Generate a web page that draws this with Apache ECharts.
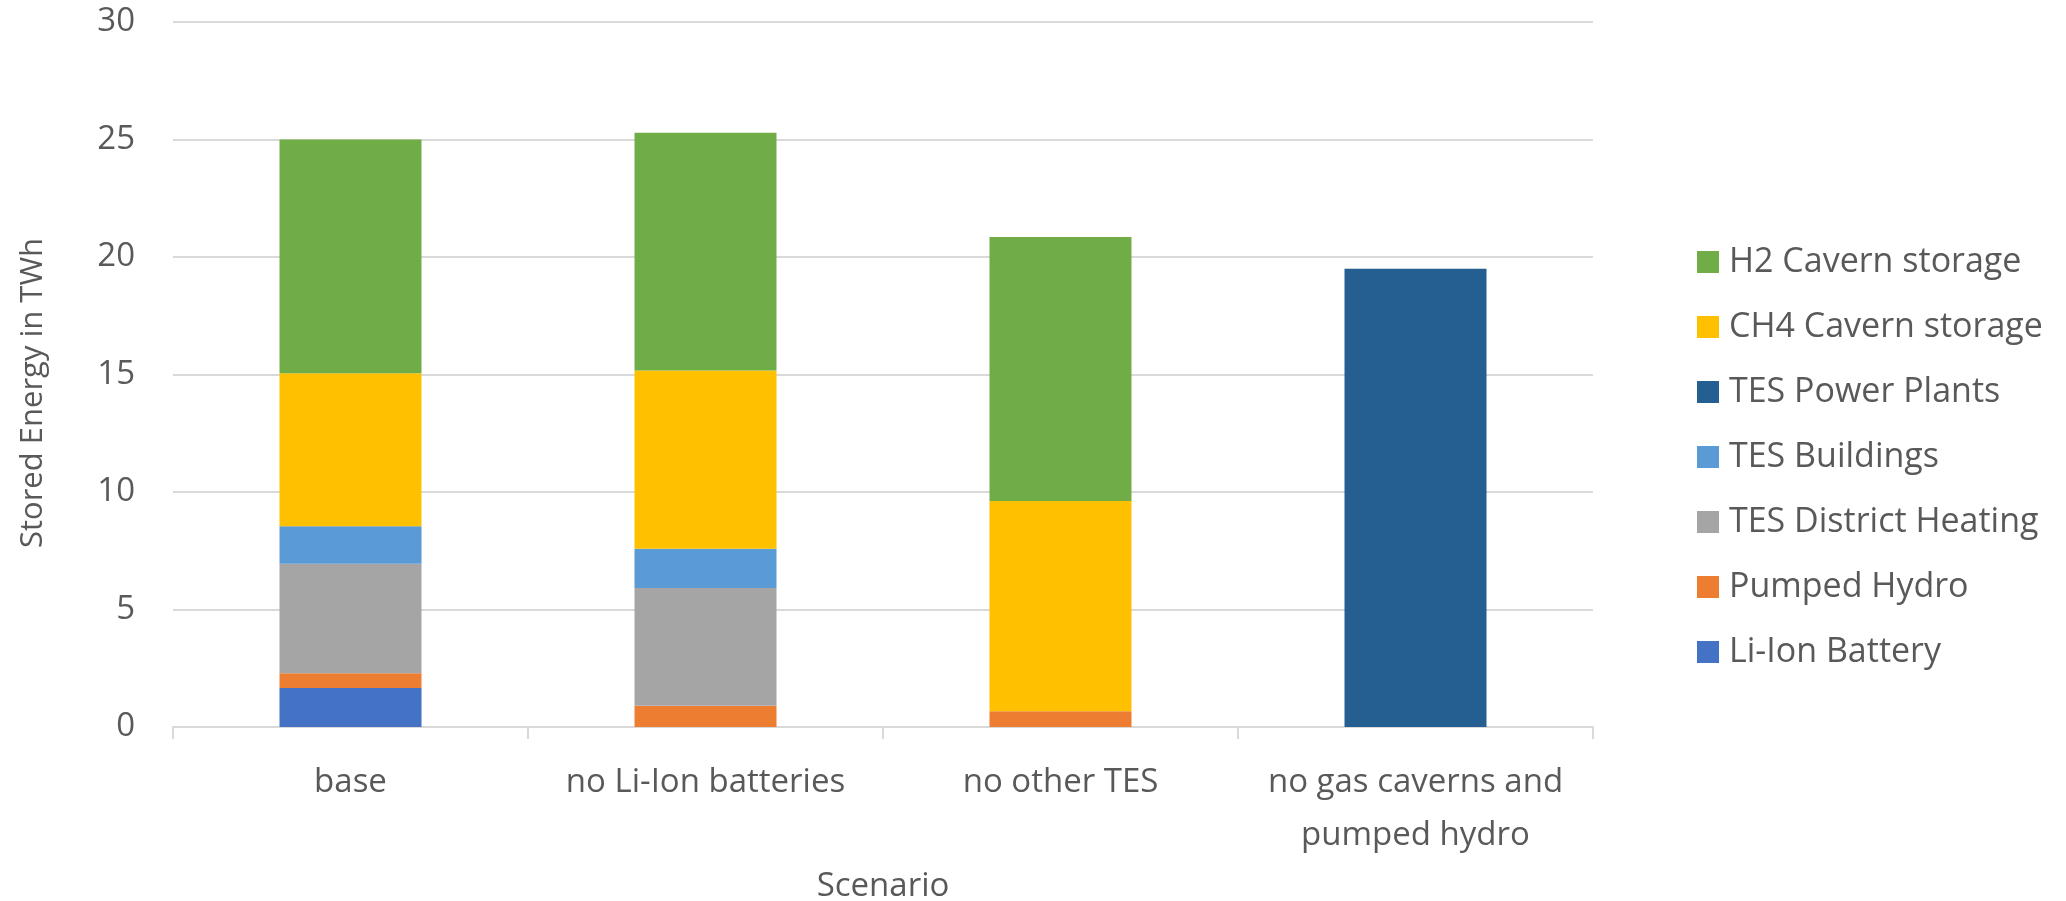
<!DOCTYPE html>
<html>
<head>
<meta charset="utf-8">
<title>Stored Energy by Scenario</title>
<script src="https://cdn.jsdelivr.net/npm/echarts@6/dist/echarts.min.js"></script>
<style>
  html, body { margin: 0; padding: 0; background: #ffffff; }
  #chart { width: 2066px; height: 901px; }
</style>
</head>
<body>
<div id="chart"></div>
<script>
// Scenarios on the x axis
const scenarios = ['base', 'no Li-Ion batteries', 'no other TES', 'no gas caverns and\npumped hydro'];

// Stored energy per technology and scenario, TWh (stacked bottom to top)
const liIonBattery     = [1.66, 0, 0, 0];
const pumpedHydro      = [0.63, 0.90, 0.67, 0];
const tesDistrictHeat  = [4.66, 5.01, 0, 0];
const tesBuildings     = [1.59, 1.67, 0, 0];
const tesPowerPlants   = [0, 0, 0, 19.5];
const ch4Cavern        = [6.51, 7.59, 8.95, 0];
const h2Cavern         = [9.95, 10.12, 11.23, 0];

// Value axis ticks
const yTicks = [0, 5, 10, 15, 20, 25, 30];

const seriesDefs = [
  { name: 'Li-Ion Battery',       data: liIonBattery,    color: '#4472C4' },
  { name: 'Pumped Hydro',         data: pumpedHydro,     color: '#ED7D31' },
  { name: 'TES District Heating', data: tesDistrictHeat, color: '#A5A5A5' },
  { name: 'TES Buildings',        data: tesBuildings,    color: '#5B9BD5' },
  { name: 'TES Power Plants',     data: tesPowerPlants,  color: '#255E91' },
  { name: 'CH4 Cavern storage',   data: ch4Cavern,       color: '#FFC000' },
  { name: 'H2 Cavern storage',    data: h2Cavern,        color: '#70AD47' }
];

const FONT = '"Open Sans", "Noto Sans", sans-serif';
const TEXT = '#595959';
const LINE = '#d9d9d9';

const chart = echarts.init(document.getElementById('chart'), null, { renderer: 'canvas' });

chart.setOption({
  animation: false,
  backgroundColor: '#ffffff',
  textStyle: { fontFamily: FONT, color: TEXT },
  grid: { left: 173, right: 473, top: 22, bottom: 174, containLabel: false, outerBoundsMode: 'none' },
  legend: {
    orient: 'vertical',
    left: 1692,
    top: 240,
    itemWidth: 22,
    itemHeight: 22,
    itemGap: 31,
    icon: 'rect',
    data: seriesDefs.map(s => s.name).reverse(),
    textStyle: { fontFamily: FONT, fontSize: 34, color: TEXT, lineHeight: 34, padding: [0, 0, 0, 5] }
  },
  xAxis: {
    type: 'category',
    data: scenarios,
    name: 'Scenario',
    nameLocation: 'middle',
    nameGap: 143,
    nameTextStyle: { fontFamily: FONT, fontSize: 33, color: TEXT },
    axisLine: { show: true, lineStyle: { color: LINE, width: 2 } },
    axisTick: { show: true, alignWithLabel: false, length: 12, lineStyle: { color: LINE, width: 2 } },
    axisLabel: { fontFamily: FONT, fontSize: 33, color: TEXT, margin: 29, lineHeight: 53, interval: 0 }
  },
  yAxis: {
    type: 'value',
    min: yTicks[0],
    max: yTicks[yTicks.length - 1],
    interval: yTicks[1] - yTicks[0],
    name: 'Stored Energy in TWh',
    nameLocation: 'middle',
    nameGap: 124,
    nameTextStyle: { fontFamily: FONT, fontSize: 31, color: TEXT, padding: [0, 37, 0, 0] },
    axisLine: { show: false },
    axisTick: { show: false },
    axisLabel: { fontFamily: FONT, fontSize: 33, color: TEXT, margin: 38 },
    splitLine: { show: true, lineStyle: { color: LINE, width: 2 } }
  },
  series: seriesDefs.map(s => ({
    name: s.name,
    type: 'bar',
    stack: 'total',
    barWidth: '40%',
    data: s.data,
    itemStyle: { color: s.color },
    emphasis: { disabled: true }
  }))
});
</script>
</body>
</html>
